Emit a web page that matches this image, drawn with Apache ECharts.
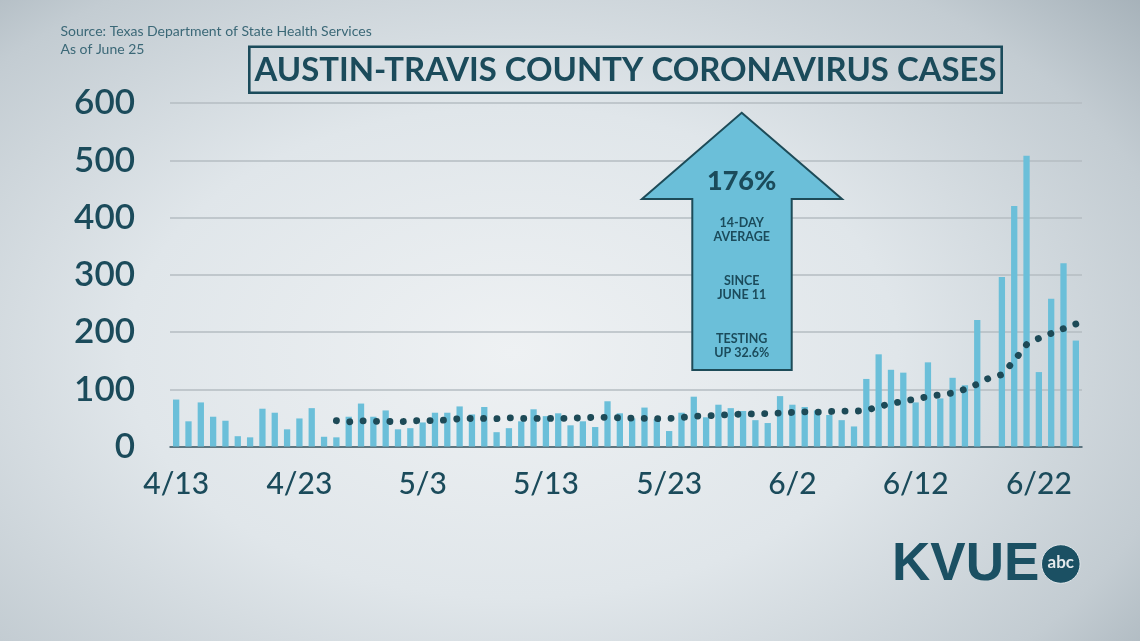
<!DOCTYPE html>
<html>
<head>
<meta charset="utf-8">
<script src="https://cdn.jsdelivr.net/npm/echarts@6.0.0/dist/echarts.min.js"></script>
<style>
  html, body { margin: 0; padding: 0; width: 1140px; height: 641px; overflow: hidden; }
  body {
    background: radial-gradient(ellipse 75% 85% at 45% 55%, #eef1f3 0%, #e0e6ea 45%, #c3ccd2 80%, #a3afb7 100%);
  }
  #chart { width: 1140px; height: 641px; }
</style>
</head>
<body>
<div id="chart"></div>
<script>
// ---- DATA ----
const startDate = { month: 4, day: 13 };
const dayCount = 74; // 4/13 .. 6/25
const dailyCases = [
  82, 44, 77, 52, 45, 18, 16, 66, 59, 30,
  49, 67, 17, 16, 52, 75, 52, 63, 30, 32,
  42, 59, 59, 70, 56, 69, 25, 32, 44, 65,
  53, 58, 37, 44, 34, 79, 58, 49, 68, 48,
  27, 59, 87, 51, 73, 67, 62, 46, 41, 88,
  73, 69, 63, 55, 46, 35, 118, 161, 134, 129,
  77, 147, 84, 120, 107, 221, null, 296, 420, 508,
  130, 258, 320, 185
];
const avg14 = [
  null, null, null, null, null, null, null, null, null, null,
  null, null, null, 45, 43, 45, 44, 44, 43, 44.5,
  45.5, 45, 46.5, 48.5, 49, 49, 48.5, 50, 49, 49,
  49, 49, 49.5, 50, 51, 51, 50, 49.5, 49, 48.5,
  49, 50.5, 53, 53.6, 54.5, 56, 56.5, 57, 57.5, 58.5,
  59.5, 60.5, 60, 61, 62, 61.5, 63, 69.5, 75, 79,
  83, 87, 90.5, 93.5, 100, 109, 120, 125.5, 150, 178,
  189, 197.5, 206, 214
];
const yTicks = [0, 100, 200, 300, 400, 500, 600];

// category labels (dates)
const monthDays = { 4: 30, 5: 31, 6: 30 };
const categories = [];
(function () {
  let m = startDate.month, d = startDate.day;
  for (let i = 0; i < dayCount; i++) {
    categories.push(m + '/' + d);
    d++;
    if (d > monthDays[m]) { d = 1; m++; }
  }
})();

const DARK = '#1b4b5b';
const BAR = '#6bbfd9';
const FONT = 'Lato, "Open Sans", sans-serif';

const chart = echarts.init(document.getElementById('chart'), null, { renderer: 'canvas' });

const arrowPts = [[741.7, 112.7], [842, 199], [791.7, 199], [791.7, 370], [692.3, 370], [692.3, 199], [642, 199]];

function txt(x, y, text, size, weight, color, align) {
  return {
    type: 'text', x: x, y: y, z: 100,
    style: { text: text, fill: color || DARK, font: (weight || 'bold') + ' ' + size + 'px ' + FONT, align: align || 'center', verticalAlign: 'middle' }
  };
}

chart.setOption({
  backgroundColor: 'transparent',
  animation: false,
  grid: { left: 170, right: 58, top: 103, bottom: 194.5 },
  xAxis: {
    type: 'category',
    data: categories,
    boundaryGap: true,
    axisLine: { lineStyle: { color: '#3e5966', width: 1.5 } },
    axisTick: { interval: 9, length: 10, lineStyle: { color: '#5b6e77', width: 1.5 } },
    axisLabel: { interval: 9, fontSize: 30, fontFamily: FONT, fontWeight: 500, color: DARK, margin: 23 }
  },
  yAxis: {
    type: 'value',
    min: yTicks[0], max: yTicks[yTicks.length - 1], interval: 100,
    axisLine: { show: false },
    axisTick: { show: false },
    splitLine: { lineStyle: { color: '#b5bdc2', width: 1.5 } },
    axisLabel: { fontSize: 35, fontFamily: FONT, fontWeight: 600, color: DARK, margin: 35 }
  },
  series: [
    {
      type: 'bar',
      data: dailyCases,
      barWidth: '51%',
      itemStyle: { color: BAR },
      z: 2
    },
    {
      type: 'line',
      data: avg14,
      showSymbol: false,
      symbol: 'none',
      lineStyle: { color: '#1d4a57', width: 6.8, type: [0.1, 13.3], cap: 'round' },
      z: 3
    }
  ],
  graphic: [
    txt(60.5, 31.5, 'Source: Texas Department of State Health Services', 14, 'normal', '#3b6877', 'left'),
    txt(60.5, 49, 'As of June 25', 14, 'normal', '#3b6877', 'left'),
    {
      type: 'rect', z: 90,
      shape: { x: 249.3, y: 46.7, width: 752.4, height: 46 },
      style: { fill: 'none', stroke: DARK, lineWidth: 2.6 }
    },
    txt(625.5, 70.5, 'AUSTIN-TRAVIS COUNTY CORONAVIRUS CASES', 32.9, 'bold'),
    {
      type: 'polygon', z: 90,
      shape: { points: arrowPts },
      style: { fill: BAR, stroke: '#1d4b58', lineWidth: 2 }
    },
    txt(741.7, 181, '176%', 27, '900'),
    txt(741.7, 223, '14-DAY', 12.5, 'bold'),
    txt(741.7, 237, 'AVERAGE', 12.5, 'bold'),
    txt(741.7, 281, 'SINCE', 12.5, 'bold'),
    txt(741.7, 294.5, 'JUNE 11', 12.5, 'bold'),
    txt(741.7, 339, 'TESTING', 12.5, 'bold'),
    txt(741.7, 353, 'UP 32.6%', 12.5, 'bold'),
    {
      type: 'text', x: 892, y: 565, z: 100,
      style: { text: 'KVUE', fill: '#1b5063', font: '900 53px "Liberation Sans", Arial, sans-serif', align: 'left', verticalAlign: 'middle' }
    },
    {
      type: 'circle', z: 100,
      shape: { cx: 1060.8, cy: 564, r: 19.3 },
      style: { fill: '#1b5063', stroke: '#dfe5e9', lineWidth: 1 }
    },
    txt(1060.8, 563, 'abc', 17, 'bold', '#e4e9ec')
  ]
});
</script>
</body>
</html>
